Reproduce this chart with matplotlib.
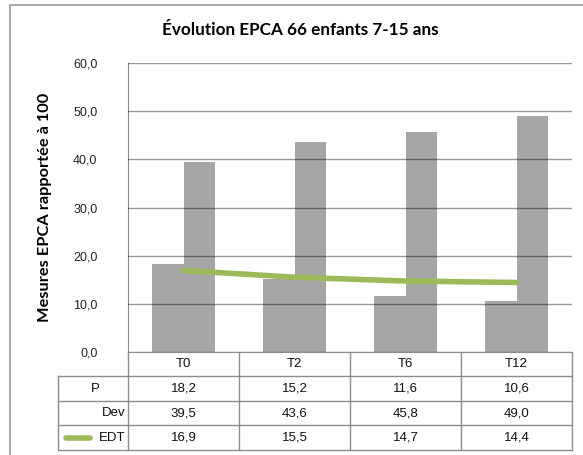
import numpy as np
import matplotlib
matplotlib.use('Agg')
import matplotlib.pyplot as plt
from matplotlib.lines import Line2D
from matplotlib.patches import Rectangle

periods = ['T0', 'T2', 'T6', 'T12']
p_vals = [18.2, 15.2, 11.6, 10.6]
dev_vals = [39.5, 43.6, 45.8, 49.0]
edt_vals = [16.9, 15.5, 14.7, 14.4]
yticks = [0, 10, 20, 30, 40, 50, 60]

bar_color = '#a6a6a6'
line_color = '#9bbb59'
edge_color = '#8c8c8c'

W, H = 583, 455
fig = plt.figure(figsize=(W / 100, H / 100), dpi=100)

def px(x0, y0, x1, y1):
  # pixel box (top-left origin) -> figure fraction rect
  return [x0 / W, 1 - y1 / H, (x1 - x0) / W, (y1 - y0) / H]

# outer frame of the chart
fig.patches.append(Rectangle((10 / W, -0.05), 1.0, 1 - 5 / H + 0.05, transform=fig.transFigure,
                             fill=False, edgecolor='#9a9a9a', linewidth=1.2))

ax = fig.add_axes(px(128, 63.3, 572, 351.7))
x = np.arange(len(periods))
w = 1 / 3.5
ax.bar(x - w / 2, p_vals, width=w, color=bar_color, zorder=2)
ax.bar(x + w / 2, dev_vals, width=w, color=bar_color, zorder=2)
ax.plot(x, edt_vals, color=line_color, linewidth=4, solid_capstyle='round', zorder=4)

ax.set_xlim(-0.5, len(periods) - 0.5)
ax.set_ylim(0, 60)
ax.set_yticks(yticks)
ax.set_yticklabels(['{:.1f}'.format(v).replace('.', ',') for v in yticks],
                   fontsize=9, family='Liberation Sans', color='#222222')
ax.tick_params(axis='y', length=0, pad=22)
ax.set_xticks([])
ax.grid(axis='y', color='black', alpha=0.4, linewidth=1, zorder=3)
ax.set_axisbelow(False)
for s in ['top', 'right']:
  ax.spines[s].set_visible(False)
ax.spines['left'].set_color(edge_color)
ax.spines['bottom'].set_color(edge_color)
ax.set_ylabel('Mesures EPCA rapportée à 100', fontsize=11.8, fontweight='bold',
              family='Lato')
ax.yaxis.set_label_coords(-0.172, 0.5)

fig.text(300 / W, 1 - 30 / H, 'Évolution EPCA 66 enfants 7-15 ans', ha='center', va='center',
         fontsize=12.3, fontweight='bold', family='Lato')

# data table under the plot, same category scale as the bars
tab = fig.add_axes(px(128, 351.7, 572, 450))
tab.set_xlim(-0.5, len(periods) - 0.5)
tab.set_ylim(4, 0)
tab.axis('off')
lab_left = -0.5 - 70 / 111
kw = dict(color=edge_color, linewidth=1, clip_on=False)
for r in range(1, 5):
  tab.plot([lab_left, len(periods) - 0.5], [r, r], **kw)
for c in range(len(periods) + 1):
  tab.plot([c - 0.5, c - 0.5], [0, 4], **kw)
tab.plot([lab_left, lab_left], [1, 4], **kw)

tf = dict(fontsize=9.5, family='Liberation Sans', va='center', ha='center', color='#111111')
fmt = lambda v: '{:.1f}'.format(v).replace('.', ',')
for i, t in enumerate(periods):
  tab.text(i, 0.5, t, **tf)
  tab.text(i, 1.5, fmt(p_vals[i]), **tf)
  tab.text(i, 2.5, fmt(dev_vals[i]), **tf)
  tab.text(i, 3.5, fmt(edt_vals[i]), **tf)
tab.text(lab_left + 0.34, 1.5, 'P', clip_on=False, **tf)
tab.text(-0.52, 2.5, 'Dev', clip_on=False, **dict(tf, ha='right'))
tab.text(-0.52, 3.5, 'EDT', clip_on=False, **dict(tf, ha='right'))
tab.add_line(Line2D([lab_left + 0.07, -0.84], [3.5, 3.5], color=line_color, linewidth=4,
                    solid_capstyle='round', clip_on=False))

fig.savefig('out.png', dpi=100)
